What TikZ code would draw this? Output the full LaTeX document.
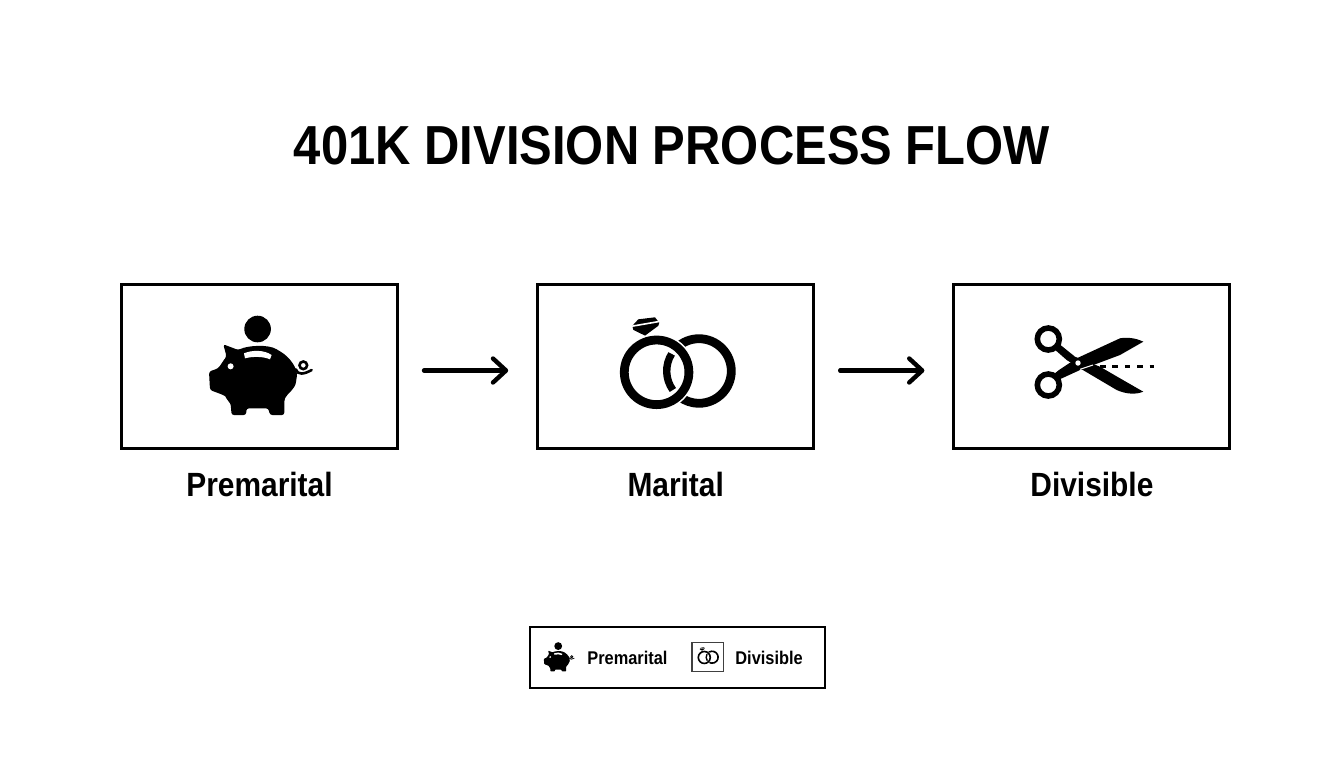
\documentclass[tikz,border=0pt]{standalone}
\usepackage{fontspec}
\setmainfont[FakeStretch=0.89]{Liberation Sans}
\usetikzlibrary{positioning,arrows.meta}
\begin{document}
\begin{tikzpicture}
		[x=0.5pt,y=-0.5pt,
		stagebox/.style={draw,line width=1.5pt,minimum width=138pt,minimum height=82pt,inner sep=0pt},
		stagename/.style={font=\bfseries\fontsize{16.8}{18}\selectfont,inner sep=0pt},
		keyname/.style={font=\bfseries\fontsize{9.2}{11}\selectfont,inner sep=0pt},
		flowarrow/.style={line width=2.2pt,line cap=round,-{Straight Barb[length=6.5pt,width=12pt,round]},shorten <=12.5pt,shorten >=14pt},
		pics/piggy/.style={code={
			\begin{scope}[scale=#1]
				\fill (-2.7,-36.3) circle[radius=13.3];
				\fill[rounded corners=#1*1.2pt] (-37,-21) -- (-22,-15.3) .. controls (-12,-20) and (8,-21) .. (18,-15) .. controls (30,-8) and (38,4) .. (36,14) .. controls (35,24) and (27,28) .. (24,34.7) -- (24,49.7) -- (9.7,49.7) -- (8,43) -- (-13.7,43) -- (-14.3,49.7) -- (-28.7,49.7) -- (-29.7,38) .. controls (-33,35) and (-35,31) .. (-37,29.7) -- (-50.3,24.7) -- (-51.3,6.3) -- (-42,3) .. controls (-38,-3) and (-36,-6) .. (-33.7,-8.7) -- cycle;
				\fill[white] (-16.3,-12) .. controls (-8,-15.5) and (4,-15.5) .. (11.3,-10.3) -- (9.7,-6) .. controls (3,-9) and (-8,-9) .. (-15.3,-7) -- cycle;
				\fill[white] (-29.7,1) circle[radius=3];
				\draw[line width=#1*1.3pt] (43,0) circle[radius=3.8];
				\draw[line width=#1*1.3pt,line cap=round] (35.5,4) .. controls (37,10) and (44,9) .. (51.3,4.7);
			\end{scope}
		}},
		pics/rings/.style={code={
			\begin{scope}[scale=#1]
				\draw[line width=#1*4.4pt] (20.7,8.2)+(-140:32.3) arc[start angle=-140,end angle=135,radius=32.3];
				\draw[line width=#1*3.7pt] (20.7,8.2)+(-148:32.3) arc[start angle=-148,end angle=-216,radius=32.3];
				\draw[white,line width=#1*6pt] (-21.7,9.5) circle[radius=32.3];
				\draw[line width=#1*4.4pt] (-21.7,9.5) circle[radius=32.3];
				\fill (-40,-43.5) -- (-23.3,-45.5) -- (-19,-40) -- (-20,-37) -- (-33.3,-27.2) -- (-45,-33) -- (-46,-37) -- cycle;
				\draw[white,line width=#1*0.8pt] (-47,-36.5) -- (-18,-41.5);
			\end{scope}
		}}]
		\useasboundingbox (0,0) rectangle (1344,768);
		\node[font=\bfseries\fontsize{27.5}{32}\selectfont,inner sep=0pt] (title) at (672,146) {401K DIVISION PROCESS FLOW};
		\node[stagebox] (premarital) at (259.5,366.5) {};
		\node[stagebox,right=68.6pt of premarital] (marital) {};
		\node[stagebox,right=68.6pt of marital] (divisible) {};
		\node[stagename,below=11pt of premarital] (premaritalname) {Premarital};
		\node[stagename,below=11pt of marital] (maritalname) {Marital};
		\node[stagename,below=11pt of divisible] (divisiblename) {Divisible};
		\foreach \a/\b in {premarital/marital,marital/divisible}
		{
			\draw[flowarrow] ([yshift=-2pt]\a.east) -- ([yshift=-2pt]\b.west);
		}
		\pic (bigpiggy) at (260.3,365.3) {piggy=1};
		\pic (bigrings) at (678.3,362.8) {rings=1};
		\begin{scope}[shift={(1094,362)}]
			\draw[line width=2.8pt] (-45.7,-23) circle[radius=11];
			\draw[line width=2.8pt] (-45.7,23) circle[radius=11];
			\fill (-41,-14) -- (-36,-19) -- (-19,-5.3) -- (6,4.7) -- (26,16.3) -- (49.3,29.7) .. controls (42,32.5) and (33,32.5) .. (22.7,28) -- (-14,6.3) -- (-27.3,-2) -- cycle;
			\fill (-38,19) -- (-14,8) -- (26,-7) -- (49.3,-20.3) .. controls (42,-24) and (33,-25) .. (26,-23.7) -- (-17.3,-3.7) -- (-35,8) -- (-40,12) -- cycle;
			\draw[white,line width=0.5pt] (-14,7.3) -- (-1,3);
			\fill[white] (-16,1) circle[radius=2.7];
			\draw[line width=1.7pt,dash pattern=on 2.8pt off 3.4pt] (6,4.3) -- (60,4.3);
		\end{scope}
		\node[draw,line width=1pt,minimum width=147.6pt,minimum height=30.5pt,inner sep=0pt] (legend) at (677.5,657.5) {};
		\pic (smallpiggy) at (559,656.8) {piggy=.295};
		\node[keyname,anchor=west] (premaritalkey) at (587,657.5) {Premarital};
		\node[draw=black!75,line width=0.6pt,minimum width=15.6pt,minimum height=14.4pt,inner sep=0pt] (ringsbox) at (707.5,657) {};
		\pic (smallrings) at (708.3,655.7) {rings=.185};
		\node[keyname,anchor=west] (divisiblekey) at (735,657.5) {Divisible};
\end{tikzpicture}
\end{document}
